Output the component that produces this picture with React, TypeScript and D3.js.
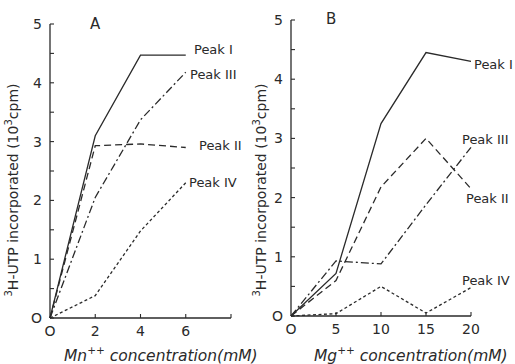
import React from 'react';
import * as d3 from 'd3';

// Panel A: Mn++ concentration (mM)
const mnConc = [0, 2, 4, 6];
const mnPeakI = [0, 3.1, 4.47, 4.47];
const mnPeakII = [0, 2.93, 2.96, 2.9];
const mnPeakIII = [0, 2.05, 3.37, 4.18];
const mnPeakIV = [0, 0.38, 1.48, 2.3];
const mnTicks = [0, 2, 4, 6, 8];

// Panel B: Mg++ concentration (mM)
const mgConc = [0, 5, 10, 15, 20];
const mgPeakI = [0, 0.72, 3.25, 4.45, 4.3];
const mgPeakII = [0, 0.6, 2.18, 3.0, 2.15];
const mgPeakIII = [0, 0.93, 0.88, 1.88, 2.85];
const mgPeakIV = [0, 0.04, 0.5, 0.05, 0.48];
const mgTicks = [0, 5, 10, 15, 20];

const yTickLabels = [0, 1, 2, 3, 4, 5];
const yMinor = d3.range(0, 5.01, 0.5);

const peakNames = ['Peak I', 'Peak II', 'Peak III', 'Peak IV'];
const dashes = ['none', '7,4', '8,3,2,3', '3,2.5'];

const ink = '#2a2a2a';
const font = 'DejaVu Sans, sans-serif';

type PanelProps = {
  letter: string;
  conc: number[];
  series: number[][];
  xDomain: [number, number];
  xRange: [number, number];
  yRange: [number, number];
  xTicks: number[];
  ion: string;
  titleX: number;
  letterX: number;
  letterDy: number;
  labelPos: [number, number][];
};

function YTitle({ x, cy }: { x: number; cy: number }) {
  return (
    <text transform={`translate(${x},${cy}) rotate(-90)`} textAnchor="middle" fontSize={14} fill={ink} fontFamily={font}>
      <tspan fontSize={10} dy={-6}>3</tspan>
      <tspan dy={6}>H-UTP incorporated (10</tspan>
      <tspan fontSize={10} dy={-6}>3</tspan>
      <tspan dy={6}>cpm)</tspan>
    </text>
  );
}

function Panel(p: PanelProps) {
  const x = d3.scaleLinear().domain(p.xDomain).range(p.xRange);
  const y = d3.scaleLinear().domain([0, 5]).range(p.yRange);
  const x0 = p.xRange[0];
  const y0 = p.yRange[0];
  const line = d3.line<number>().x((_, i) => x(p.conc[i])).y(d => y(d));

  return (
    <g>
      {/* axes */}
      <line x1={x0} x2={x0} y1={y(5)} y2={y0} stroke={ink} strokeWidth={1.3} />
      <line x1={x0} x2={p.xRange[1]} y1={y0} y2={y0} stroke={ink} strokeWidth={1.3} />
      {yMinor.map(v => (
        <line key={'yt' + v} x1={x0} x2={x0 + 4} y1={y(v)} y2={y(v)} stroke={ink} strokeWidth={1.1} />
      ))}
      {yTickLabels.map(v => (
        <text key={'yl' + v} x={x0 - 8} y={y(v) + 5} textAnchor="end" fontSize={14} fill={ink} fontFamily={font}>
          {v === 0 ? 'O' : v}
        </text>
      ))}
      {p.xTicks.map(v => (
        <g key={'xt' + v}>
          {v > 0 && <line x1={x(v)} x2={x(v)} y1={y0} y2={y0 - 4} stroke={ink} strokeWidth={1.1} />}
          {v <= p.conc[p.conc.length - 1] && (
            <text x={x(v)} y={y0 + 18} textAnchor="middle" fontSize={14} fill={ink} fontFamily={font}>
              {v === 0 ? 'O' : v}
            </text>
          )}
        </g>
      ))}

      {/* series */}
      {p.series.map((s, i) => (
        <path key={'s' + i} d={line(s) || ''} fill="none" stroke={ink} strokeWidth={1.3} strokeDasharray={dashes[i]} />
      ))}
      {p.series.map((_, i) => (
        <text key={'lab' + i} x={p.labelPos[i][0]} y={p.labelPos[i][1]} fontSize={13} fill={ink} fontFamily={font}>
          {peakNames[i]}
        </text>
      ))}

      <text x={p.letterX} y={y(5) + p.letterDy} fontSize={15} fill={ink} fontFamily={font}>{p.letter}</text>

      <text x={p.titleX} y={361} fontSize={15.5} fontStyle="italic" fill={ink} fontFamily={font}>
        {p.ion}
        <tspan fontSize={10.5} dy={-7}>++</tspan>
        <tspan dy={7}> concentration(mM)</tspan>
      </text>
    </g>
  );
}

export default function App() {
  return (
    <svg width={515} height={364} style={{ position: 'absolute', left: 0, top: 0, background: '#fff' }}>
      <YTitle x={18} cy={190} />
      <YTitle x={266} cy={190} />
      <Panel
        letter="A"
        conc={mnConc}
        series={[mnPeakI, mnPeakII, mnPeakIII, mnPeakIV]}
        xDomain={[0, 8]}
        xRange={[50, 231]}
        yRange={[318, 24]}
        xTicks={mnTicks}
        ion="Mn"
        titleX={64}
        letterX={90}
        letterDy={5}
        labelPos={[[194, 54], [199, 150], [190, 79], [189, 187]]}
      />
      <Panel
        letter="B"
        conc={mgConc}
        series={[mgPeakI, mgPeakII, mgPeakIII, mgPeakIV]}
        xDomain={[0, 20]}
        xRange={[291, 471]}
        yRange={[316, 20]}
        xTicks={mgTicks}
        ion="Mg"
        titleX={314}
        letterX={326}
        letterDy={4}
        labelPos={[[474, 69], [466, 203], [462, 144], [462, 285]]}
      />
    </svg>
  );
}
